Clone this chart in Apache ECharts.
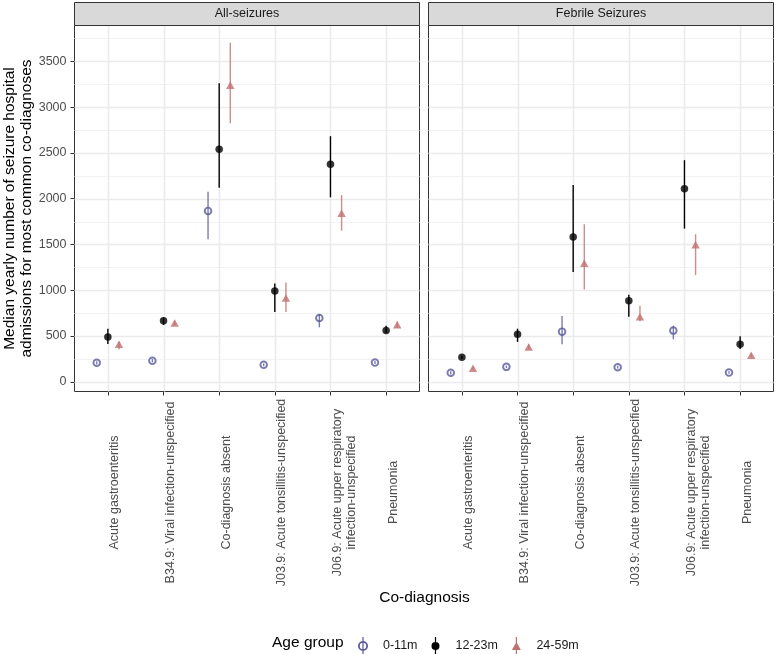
<!DOCTYPE html>
<html>
<head>
<meta charset="utf-8">
<script src="https://cdn.jsdelivr.net/npm/echarts@6.0.0/dist/echarts.min.js"></script>
<style>
  html, body { margin: 0; padding: 0; background: #fff; }
  #chart { width: 776px; height: 654px; }
</style>
</head>
<body>
<div id="chart"></div>
<script>
// ---- data ----
const categories = [
  'Acute gastroenteritis',
  'B34.9: Viral infection-unspecified',
  'Co-diagnosis absent',
  'J03.9: Acute tonsillitis-unspecified',
  'J06.9: Acute upper respiratory\ninfection-unspecified',
  'Pneumonia',
]
const ageGroups = ['0-11m', '12-23m', '24-59m']
const facets = ['All-seizures', 'Febrile Seizures']
const yTicks = [0, 500, 1000, 1500, 2000, 2500, 3000, 3500]
const yMinorTicks = [250, 750, 1250, 1750, 2250, 2750, 3250, 3750]

// All-seizures
const allMed0_11 = [207, 229, 1866, 185, 697, 210]
const allLow0_11 = [190, 212, 1558, 170, 595, 195]
const allHigh0_11 = [225, 248, 2076, 200, 740, 228]
const allMed12_23 = [490, 668, 2541, 991, 2375, 559]
const allLow12_23 = [414, 620, 2120, 762, 2015, 534]
const allHigh12_23 = [580, 700, 3260, 1074, 2683, 613]
const allMed24_59 = [410, 643, 3238, 915, 1841, 624]
const allLow24_59 = [352, 615, 2825, 762, 1651, 588]
const allHigh24_59 = [440, 668, 3704, 1085, 2040, 660]

// Febrile Seizures
const febMed0_11 = [98, 163, 548, 159, 559, 101]
const febLow0_11 = [80, 150, 410, 145, 464, 88]
const febHigh0_11 = [115, 178, 719, 175, 613, 115]
const febMed12_23 = [268, 519, 1583, 886, 2109, 410]
const febLow12_23 = [250, 436, 1198, 711, 1673, 359]
const febHigh12_23 = [285, 580, 2149, 951, 2421, 497]
const febMed24_59 = [148, 381, 1296, 711, 1496, 290]
const febLow24_59 = [135, 355, 1009, 664, 1166, 270]
const febHigh24_59 = [165, 410, 1721, 831, 1612, 310]

// ---- styling / layout ----
const FONT = '"Liberation Sans", Arial, sans-serif'
const groupColors = ['#5A5A9C', '#000000', '#C0706F']
const dodge = [-0.2, 0, 0.2]
const gridLefts = [74.5, 428.5]
const GRID_TOP = 25.5
const GRID_W = 345
const GRID_H = 366
const Y_MIN = -106
const Y_MAX = 3892

const panels = [
  {
    med: [allMed0_11, allMed12_23, allMed24_59],
    low: [allLow0_11, allLow12_23, allLow24_59],
    high: [allHigh0_11, allHigh12_23, allHigh24_59],
  },
  {
    med: [febMed0_11, febMed12_23, febMed24_59],
    low: [febLow0_11, febLow12_23, febLow24_59],
    high: [febHigh0_11, febHigh12_23, febHigh24_59],
  },
]

const xPositions = categories.map((_, i) => i + 1)

const chart = echarts.init(document.getElementById('chart'), null, { renderer: 'canvas' })

const grids = []
const xAxes = []
const yAxes = []
const series = []
const graphics = []

// each line of a category label centred within its block
function catLabel(v) {
  const c = categories[Math.round(v) - 1]
  if (!c) return ''
  return c.split('\n').map((s) => `{c|${s}}`).join('\n')
}

panels.forEach((panel, p) => {
  grids.push({
    left: gridLefts[p],
    top: GRID_TOP,
    width: GRID_W,
    height: GRID_H,
    show: true,
    backgroundColor: '#fff',
    borderColor: '#333',
    borderWidth: 1,
    z: 0,
  })

  xAxes.push({
    gridIndex: p,
    type: 'value',
    min: 0.4,
    max: 6.6,
    axisLine: { show: false, onZero: false },
    splitLine: { show: false },
    axisTick: {
      show: true,
      customValues: xPositions,
      length: 4,
      lineStyle: { color: '#333', width: 1 },
    },
    axisLabel: {
      customValues: xPositions,
      formatter: catLabel,
      rotate: 90,
      align: 'center',
      verticalAlign: 'top',
      margin: 101,
      fontSize: 12.5,
      fontFamily: FONT,
      color: '#4D4D4D',
      lineHeight: 14,
      rich: {
        c: { align: 'center', fontSize: 12.5, fontFamily: FONT, color: '#4D4D4D', lineHeight: 14 },
      },
    },
  })

  yAxes.push({
    gridIndex: p,
    type: 'value',
    min: Y_MIN,
    max: Y_MAX,
    axisLine: { show: false, onZero: false },
    splitLine: { show: false },
    axisTick: {
      show: p === 0,
      customValues: yTicks,
      length: 4,
      lineStyle: { color: '#333', width: 1 },
    },
    axisLabel: {
      show: p === 0,
      customValues: yTicks,
      formatter: (v) => String(v),
      margin: 8,
      fontSize: 12.5,
      fontFamily: FONT,
      color: '#4D4D4D',
    },
  })

  // grid lines
  const glRender = (vertical, color, width) => (params, api) => {
    const cs = params.coordSys
    if (vertical) {
      const pt = api.coord([api.value(0), 0])
      const x = Math.round(pt[0]) + 0.5
      return { type: 'line', shape: { x1: x, y1: cs.y, x2: x, y2: cs.y + cs.height }, style: { stroke: color, lineWidth: width } }
    }
    const pt = api.coord([1, api.value(1)])
    const y = Math.round(pt[1]) + 0.5
    return { type: 'line', shape: { x1: cs.x, y1: y, x2: cs.x + cs.width, y2: y }, style: { stroke: color, lineWidth: width } }
  }
  series.push({
    type: 'custom', xAxisIndex: p, yAxisIndex: p, silent: true, z: 1,
    renderItem: glRender(false, '#F2F2F2', 1),
    data: yMinorTicks.map((v) => [1, v]),
  })
  series.push({
    type: 'custom', xAxisIndex: p, yAxisIndex: p, silent: true, z: 1,
    renderItem: glRender(false, '#EBEBEB', 1.6),
    data: yTicks.map((v) => [1, v]),
  })
  series.push({
    type: 'custom', xAxisIndex: p, yAxisIndex: p, silent: true, z: 1,
    renderItem: glRender(true, '#EBEBEB', 1.6),
    data: xPositions.map((v) => [v, 0]),
  })

  // error bars + points
  ageGroups.forEach((g, gi) => {
    const color = groupColors[gi]
    series.push({
      type: 'custom',
      name: g,
      xAxisIndex: p,
      yAxisIndex: p,
      silent: true,
      z: 3,
      encode: { x: 0, y: [1, 2] },
      renderItem: (params, api) => {
        const a = api.coord([api.value(0), api.value(1)])
        const b = api.coord([api.value(0), api.value(2)])
        return {
          type: 'line',
          shape: { x1: a[0], y1: a[1], x2: b[0], y2: b[1] },
          style: { stroke: color, lineWidth: 1.4, opacity: gi === 1 ? 1 : 0.8 },
        }
      },
      data: xPositions.map((x, i) => [x + dodge[gi], panel.low[gi][i], panel.high[gi][i]]),
    })

    const pointStyle = gi === 0
      ? { color: 'rgba(0,0,0,0)', borderColor: color, borderWidth: 1.9 }
      : { color: color }
    series.push({
      type: 'scatter',
      name: g,
      xAxisIndex: p,
      yAxisIndex: p,
      z: 4,
      symbol: gi === 2 ? 'triangle' : 'circle',
      symbolSize: gi === 0 ? 6.6 : gi === 1 ? 7.5 : [8.5, 7.5],
      itemStyle: pointStyle,
      emphasis: { disabled: true },
      data: xPositions.map((x, i) => [x + dodge[gi], panel.med[gi][i]]),
    })
  })

  // facet strip
  graphics.push({
    type: 'rect',
    shape: { x: gridLefts[p], y: 2.5, width: GRID_W, height: GRID_TOP - 2.5 },
    style: { fill: '#D9D9D9', stroke: '#333', lineWidth: 1 },
    z: 10,
  })
  graphics.push({
    type: 'text',
    x: gridLefts[p] + GRID_W / 2,
    y: 14,
    style: {
      text: facets[p],
      fontSize: 12.5,
      fontFamily: FONT,
      fill: '#1A1A1A',
      align: 'center',
      verticalAlign: 'middle',
    },
    z: 11,
  })
})

// axis titles and legend title
graphics.push({
  type: 'text',
  x: 18,
  y: 208.5,
  rotation: Math.PI / 2,
  style: {
    text: 'Median yearly number of seizure hospital\nadmissions for most common co-diagnoses',
    fontSize: 15.5,
    lineHeight: 17.5,
    fontFamily: FONT,
    fill: '#000',
    align: 'center',
    verticalAlign: 'middle',
  },
})
graphics.push({
  type: 'text',
  x: 424.5,
  y: 598,
  style: {
    text: 'Co-diagnosis',
    fontSize: 15.5,
    fontFamily: FONT,
    fill: '#000',
    align: 'center',
    verticalAlign: 'middle',
  },
})
graphics.push({
  type: 'text',
  x: 272,
  y: 643,
  style: {
    text: 'Age group',
    fontSize: 15.5,
    fontFamily: FONT,
    fill: '#000',
    align: 'left',
    verticalAlign: 'middle',
  },
})

const legendIcons = [
  'path://M5,0 A5,5 0 1,1 5,10 A5,5 0 1,1 5,0 Z M5,1.8 A3.2,3.2 0 1,0 5,8.2 A3.2,3.2 0 1,0 5,1.8 Z M4.4,-4 H5.6 V14 H4.4 Z',
  'path://M4,0 A4,4 0 1,1 4,8 A4,4 0 1,1 4,0 Z M3.4,-5 H4.6 V13 H3.4 Z',
  'path://M0,8 L4.5,0 L9,8 Z M3.9,-5 H5.1 V13 H3.9 Z',
]

const option = {
  animation: false,
  backgroundColor: '#fff',
  grid: grids,
  xAxis: xAxes,
  yAxis: yAxes,
  series: series,
  graphic: graphics,
  legend: {
    left: 353,
    top: 632,
    itemWidth: 30,
    itemHeight: 18,
    itemGap: 14,
    selectedMode: false,
    data: ageGroups.map((g, gi) => ({ name: g, icon: legendIcons[gi], itemStyle: { color: groupColors[gi], borderWidth: 0 } })),
    textStyle: { fontSize: 12.5, fontFamily: FONT, color: '#1A1A1A' },
  },
}

chart.setOption(option)
window.addEventListener('resize', () => chart.resize())
</script>
</body>
</html>
